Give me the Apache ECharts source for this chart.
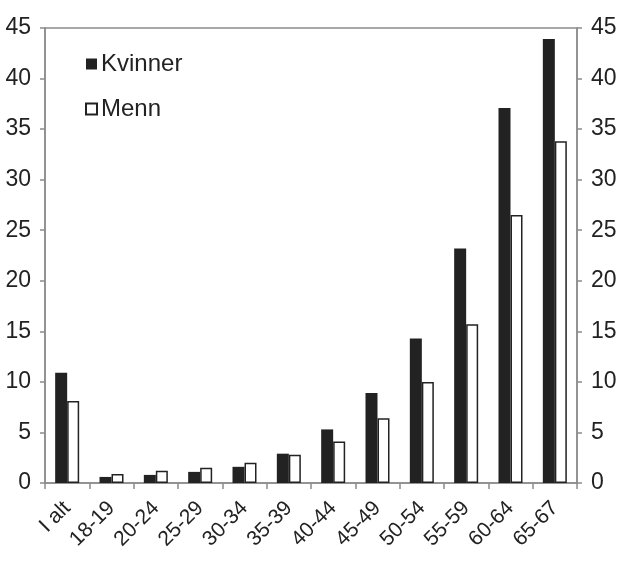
<!DOCTYPE html>
<html>
<head>
<meta charset="utf-8">
<script src="https://cdn.jsdelivr.net/npm/echarts@6/dist/echarts.min.js"></script>
<style>html,body{margin:0;padding:0;background:#fff}#c{width:620px;height:569px}</style>
</head>
<body>
<div id="c"></div>
<script>
const categories = ['I alt','18-19','20-24','25-29','30-34','35-39','40-44','45-49','50-54','55-59','60-64','65-67'];
const kvinner = [10.9, 0.6, 0.8, 1.1, 1.6, 2.9, 5.3, 8.9, 14.3, 23.2, 37.1, 43.9];
const menn = [8.1, 0.9, 1.2, 1.5, 2.0, 2.8, 4.1, 6.4, 10.0, 15.7, 26.5, 33.8];
const yTicks = {min: 0, max: 45, interval: 5};

const font = '"Liberation Sans", Arial, sans-serif';
const axisColor = '#8c8c8c';
const textColor = '#222';

const yAxisBase = (pos) => ({
  type: 'value', position: pos, min: yTicks.min, max: yTicks.max, interval: yTicks.interval,
  axisLine: {show: true, lineStyle: {color: axisColor, width: 1.5}},
  axisTick: {show: true, length: 5, lineStyle: {color: axisColor, width: 1.5}},
  splitLine: {show: false},
  axisLabel: {color: textColor, fontSize: 23, fontFamily: font, margin: 14}
});

const chart = echarts.init(document.getElementById('c'));
chart.setOption({
  animation: false,
  backgroundColor: '#fff',
  grid: {left: 45, right: 43, top: 28, bottom: 86, show: true, borderColor: axisColor, borderWidth: 1.5, backgroundColor: 'transparent'},
  legend: {
    orient: 'vertical', left: 80, top: 47, itemGap: 21, itemWidth: 11, itemHeight: 11, icon: 'rect',
    textStyle: {color: textColor, fontSize: 24, fontFamily: font, padding: [0,0,0,-1]},
    data: ['Kvinner', 'Menn']
  },
  xAxis: {
    type: 'category', data: categories, boundaryGap: true,
    axisLine: {show: true, lineStyle: {color: axisColor, width: 1.5}},
    axisTick: {show: true, interval: 0, length: 6, lineStyle: {color: axisColor, width: 1.5}},
    axisLabel: {interval: 0, rotate: 45, color: textColor, fontSize: 21, fontFamily: font, margin: 22}
  },
  yAxis: [yAxisBase('left'), yAxisBase('right')],
  series: [
    {name: 'Kvinner', type: 'bar', data: kvinner, barWidth: 12, barGap: '0%',
     itemStyle: {color: '#222', borderColor: '#222', borderWidth: 0}},
    {name: 'Menn', type: 'bar', data: menn, barWidth: 12, barGap: '0%',
     itemStyle: {color: '#fff', borderColor: '#222', borderWidth: 1.5}}
  ]
});
</script>
</body>
</html>
